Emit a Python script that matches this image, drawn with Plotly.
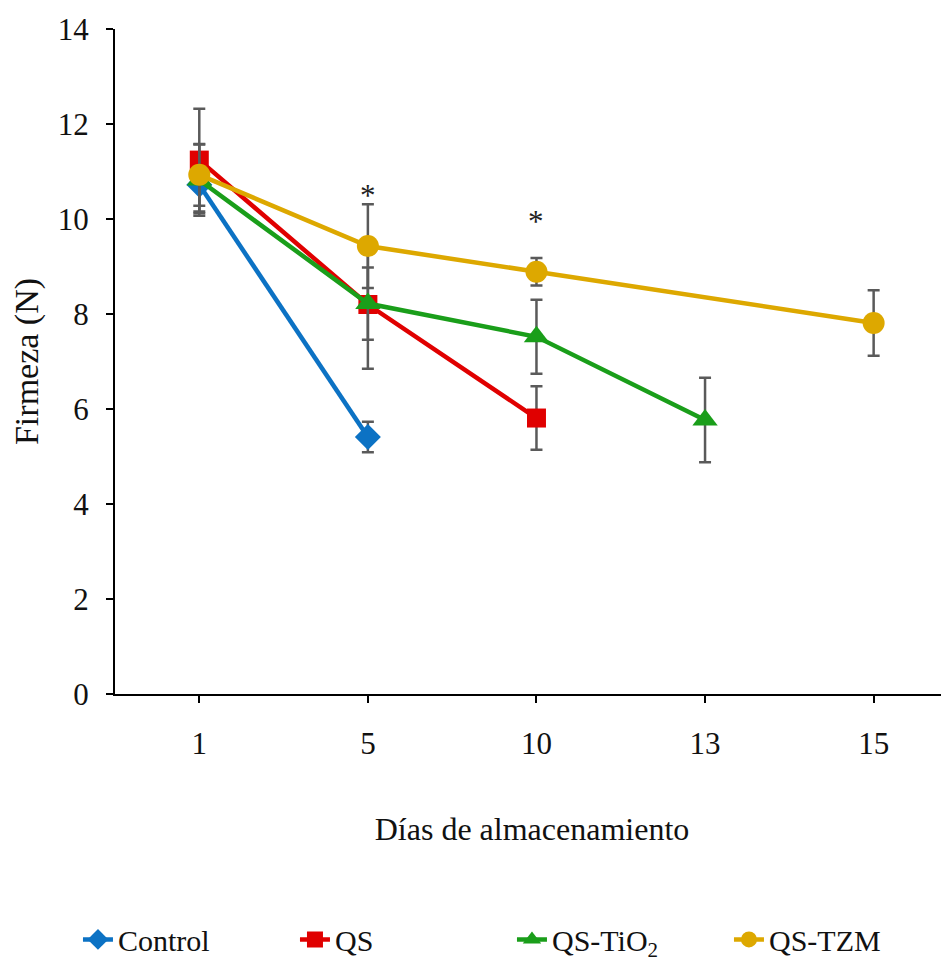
import plotly.graph_objects as go

days = ["1", "5", "10", "13", "15"]

control_days = ["1", "5"]
control_vals = [10.72, 5.41]
control_err = [0.60, 0.32]

qs_days = ["1", "5", "10"]
qs_vals = [11.24, 8.20, 5.81]
qs_err = [1.08, 1.35, 0.67]

tio2_days = ["1", "5", "10", "13"]
tio2_vals = [10.82, 8.22, 7.52, 5.77]
tio2_err = [0.75, 0.76, 0.78, 0.89]

tzm_days = ["1", "5", "10", "15"]
tzm_vals = [10.93, 9.43, 8.89, 7.81]
tzm_err = [0.65, 0.88, 0.29, 0.69]

star_days = ["5", "10"]
star_vals = [10.50, 9.94]

FONT = "Times New Roman, Liberation Serif, serif"
ERR_COLOR = "#5a5a5a"

series = [
    ("Control", control_days, control_vals, control_err, "#0C72C4", "diamond", 20),
    ("QS", qs_days, qs_vals, qs_err, "#E00000", "square", 19),
    ("QS-TiO<sub>2</sub>", tio2_days, tio2_vals, tio2_err, "#1A9E1A", "triangle-up", 22),
    ("QS-TZM", tzm_days, tzm_vals, tzm_err, "#DDA800", "circle", 22),
]

fig = go.Figure()
for name, xs, ys, es, color, sym, size in series:
    fig.add_trace(go.Scatter(
        x=xs, y=ys, name=name, mode="lines+markers",
        line=dict(color=color, width=4.5),
        marker=dict(color=color, symbol=sym, size=size, line=dict(width=0)),
        error_y=dict(type="data", array=es, visible=True, color=ERR_COLOR,
                     thickness=2.5, width=6),
    ))

# category axis: annotations positioned by category index
for d, v in zip(star_days, star_vals):
    fig.add_annotation(x=days.index(d), y=v, text="*", showarrow=False,
                       font=dict(family=FONT, size=31, color="#222"))

# page body has an 8px margin, so the figure is sized/offset to compensate
fig.update_layout(
    width=941, height=953,
    margin=dict(l=107, r=0, t=21, b=267, autoexpand=False),
    paper_bgcolor="white", plot_bgcolor="white",
    font=dict(family=FONT, color="#111", size=30),
    showlegend=True,
    legend=dict(orientation="h", x=-0.0444, y=-0.369, xanchor="left", yanchor="middle",
                font=dict(family=FONT, size=30, color="#111"),
                entrywidth=172, entrywidthmode="pixels", itemwidth=30),
)
fig.update_xaxes(
    type="category", categoryorder="array", categoryarray=days,
    range=[-0.5, 4.447], showline=True, linecolor="black", linewidth=2,
    ticks="outside", ticklen=7, tickwidth=2, tickcolor="black",
    showgrid=False, zeroline=False, ticklabelstandoff=14, automargin=False,
    tickfont=dict(family=FONT, size=31, color="#111"),
    title=dict(text="Días de almacenamiento", standoff=57,
               font=dict(family=FONT, size=32, color="#111")),
)
fig.update_yaxes(
    range=[0, 14], tickvals=[0, 2, 4, 6, 8, 10, 12, 14],
    showline=True, linecolor="black", linewidth=2,
    ticks="outside", ticklen=7, tickwidth=2, tickcolor="black",
    showgrid=False, zeroline=False, ticklabelstandoff=11, automargin=False,
    tickfont=dict(family=FONT, size=31, color="#111"),
    title=dict(text="Firmeza (N)", standoff=10,
               font=dict(family=FONT, size=34, color="#111")),
)

fig.write_html("out.html")
